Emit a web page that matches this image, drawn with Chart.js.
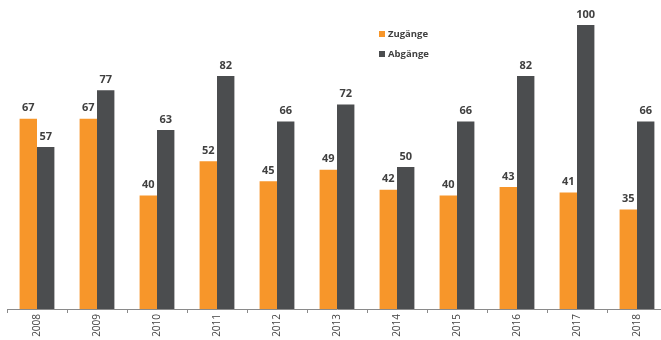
<!DOCTYPE html>
<html>
<head>
<meta charset="utf-8">
<script src="https://cdn.jsdelivr.net/npm/chart.js@4"></script>
<style>
  html, body { margin: 0; padding: 0; overflow: hidden; background: #fff; }
  #wrap { width: 667px; height: 340px; position: relative; }
</style>
</head>
<body>
<div id="wrap"><canvas id="chart"></canvas></div>
<script>
// Zu- und Abgänge je Jahr
const years = ['2008', '2009', '2010', '2011', '2012', '2013', '2014', '2015', '2016', '2017', '2018'];
const zugaenge = [67, 67, 40, 52, 45, 49, 42, 40, 43, 41, 35];
const abgaenge = [57, 77, 63, 82, 66, 72, 50, 66, 82, 100, 66];

const ORANGE = '#f7962a';
const DARK = '#4b4d4f';
const FONT = '"Open Sans", "Liberation Sans", sans-serif';

// value labels above each bar
const valueLabels = {
    id: 'valueLabels',
    afterDatasetsDraw(chart) {
        const ctx = chart.ctx;
        ctx.save();
        ctx.font = 'bold 11px ' + FONT;
        ctx.fillStyle = '#404040';
        ctx.textAlign = 'center';
        ctx.textBaseline = 'bottom';
        chart.data.datasets.forEach((ds, i) => {
            chart.getDatasetMeta(i).data.forEach((bar, j) => {
                ctx.fillText(ds.data[j], bar.x, bar.y - 5);
            });
        });
        ctx.restore();
    }
};

// small legend inside the plot area
const innerLegend = {
    id: 'innerLegend',
    afterDraw(chart) {
        const ctx = chart.ctx;
        ctx.save();
        ctx.font = 'bold 9.5px ' + FONT;
        ctx.textBaseline = 'middle';
        chart.data.datasets.forEach((ds, i) => {
            const y = 34 + i * 20;
            ctx.fillStyle = ds.backgroundColor;
            ctx.fillRect(379, y - 3, 6, 6);
            ctx.fillStyle = '#404040';
            ctx.fillText(ds.label, 388, y);
        });
        ctx.restore();
    }
};

const chart = new Chart(document.getElementById('chart'), {
    type: 'bar',
    data: {
        labels: years,
        datasets: [
            { label: 'Zugänge', data: zugaenge, backgroundColor: ORANGE },
            { label: 'Abgänge', data: abgaenge, backgroundColor: DARK }
        ]
    },
    options: {
        responsive: true,
        maintainAspectRatio: false,
        animation: false,
        layout: { padding: { top: 25, left: 7, right: 0, bottom: 0 } },
        datasets: { bar: { categoryPercentage: 0.58, barPercentage: 1.0 } },
        plugins: { legend: { display: false }, tooltip: { enabled: false } },
        scales: {
            x: {
                grid: { drawOnChartArea: false, tickLength: 4, color: '#8a8a8a' },
                border: { color: '#8a8a8a' },
                ticks: {
                    autoSkip: false, minRotation: 90, maxRotation: 90, padding: 1,
                    color: '#444', font: { family: FONT, size: 10 }
                },
                afterFit(scale) { scale.height = 31; }
            },
            y: { display: false, min: 0, max: 100 }
        }
    },
    plugins: [valueLabels, innerLegend]
});
</script>
</body>
</html>
